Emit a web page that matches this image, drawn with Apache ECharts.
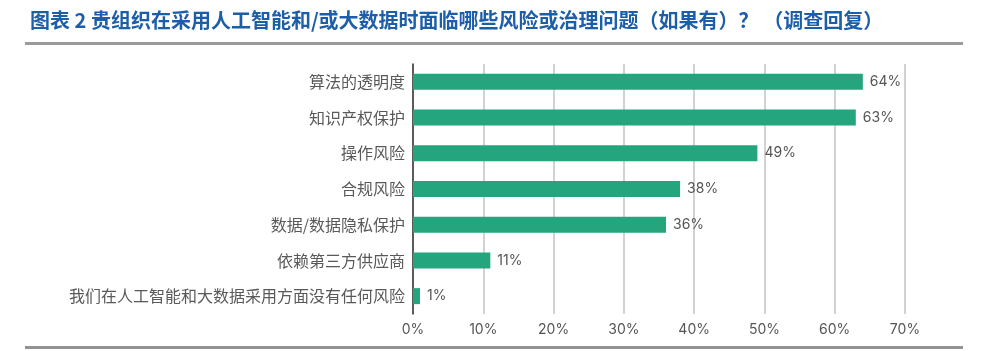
<!DOCTYPE html>
<html>
<head>
<meta charset="utf-8">
<script src="https://cdn.jsdelivr.net/npm/echarts@6/dist/echarts.min.js"></script>
<style>
  html, body { margin: 0; padding: 0; background: #fff; }
  #chart { width: 984px; height: 351px; }
</style>
</head>
<body>
<div id="chart"></div>
<script>
// 风险类别（自上而下）
const categories = [
  '算法的透明度',
  '知识产权保护',
  '操作风险',
  '合规风险',
  '数据/数据隐私保护',
  '依赖第三方供应商',
  '我们在人工智能和大数据采用方面没有任何风险'
];
const values = [64, 63, 49, 38, 36, 11, 1];
const tickLabels = ['0%', '10%', '20%', '30%', '40%', '50%', '60%', '70%'];
const titleText = '图表 2 贵组织在采用人工智能和/或大数据时面临哪些风险或治理问题（如果有）？ （调查回复）';

const cnFont = '"Noto Sans CJK SC", "Noto Sans", sans-serif';

const chart = echarts.init(document.getElementById('chart'));
const option = {
  backgroundColor: '#fff',
  animation: false,
  graphic: [
    {
      type: 'text',
      left: 30,
      top: 10,
      style: {
        text: titleText,
        fill: '#1d5ea8',
        font: 'bold 20px ' + cnFont
      }
    },
    {
      type: 'rect',
      shape: { x: 25, y: 42, width: 938, height: 3 },
      style: { fill: '#9a9a9a' }
    },
    {
      type: 'rect',
      shape: { x: 25, y: 346, width: 938, height: 3 },
      style: { fill: '#929292' }
    }
  ],
  grid: { left: 413, right: 79, top: 64, height: 250 },
  xAxis: {
    type: 'value',
    min: 0,
    max: 70,
    interval: 10,
    axisLine: { show: false },
    axisTick: { show: false },
    splitLine: { lineStyle: { color: '#d2d2d2', width: 2 } },
    axisLabel: {
      color: '#555',
      fontSize: 14,
      fontFamily: 'Inter, sans-serif',
      margin: 9,
      formatter: (v) => tickLabels[Math.round(v / 10)]
    }
  },
  yAxis: {
    type: 'category',
    inverse: true,
    data: categories,
    axisLine: { lineStyle: { color: '#333', width: 1.5 } },
    axisTick: { show: false },
    axisLabel: { color: '#595959', fontSize: 16, fontFamily: cnFont, margin: 8 }
  },
  series: [{
    type: 'bar',
    data: values,
    barWidth: 16,
    itemStyle: { color: '#25a57e' },
    label: {
      show: true,
      position: 'right',
      distance: 7,
      color: '#555',
      fontSize: 14,
      fontFamily: 'Inter, sans-serif',
      formatter: '{c}%'
    }
  }]
};
chart.setOption(option);
window.addEventListener('resize', () => chart.resize());
</script>
</body>
</html>
